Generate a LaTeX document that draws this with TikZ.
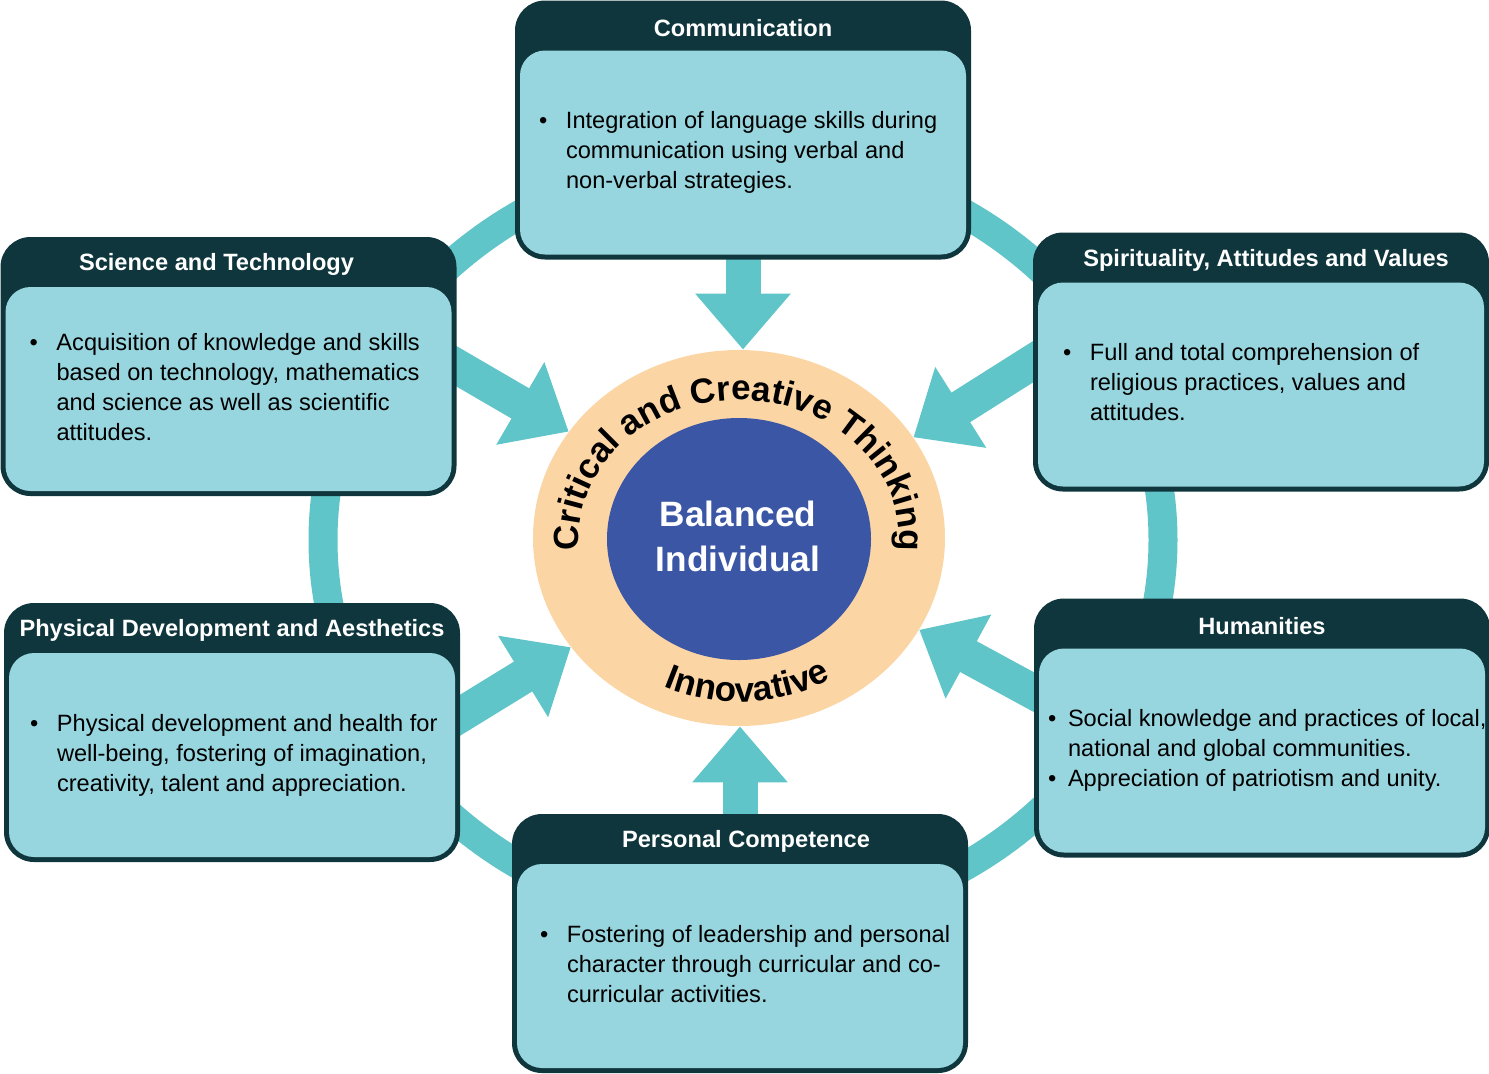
\documentclass[tikz,border=0pt]{standalone}
\usepackage{fontspec}
\setmainfont{Liberation Sans}
\usetikzlibrary{shapes.geometric, arrows.meta, decorations.text, backgrounds}
\definecolor{boxdark}{HTML}{0F363C}
\definecolor{boxlight}{HTML}{97D6DF}
\definecolor{ringteal}{HTML}{60C5C8}
\definecolor{corepeach}{HTML}{FCD5A5}
\definecolor{coreblue}{HTML}{3A56A5}
\newcommand{\bulletlist}[2]{\begin{tabular}{@{}p{#1}@{}l@{}}#2\end{tabular}}

\begin{document}
\begin{tikzpicture}[x=0.5pt, y=-0.5pt,
	outerbox/.style={fill=boxdark, rounded corners=15pt, minimum width=228pt, minimum height=129.5pt, inner sep=0pt},
	innerbox/.style={fill=boxlight, rounded corners=12.5pt, minimum width=223pt, minimum height=102pt, anchor=south, inner sep=0pt},
	boxtitle/.style={text=white, inner sep=0pt, font=\bfseries\fontsize{11.8}{14}\selectfont},
	boxbody/.style={anchor=west, inner sep=0pt, font=\fontsize{11.8}{15}\selectfont},
	feed/.style={draw=ringteal, line width=17.5pt, shorten <=-8pt, -{Triangle[width=46pt, length=28pt]}}]
		\useasboundingbox (0,0) rectangle (1489,1073);
%
		\node[outerbox] (comm) at (743,130) {};
		\node[innerbox] (commin) at ([yshift=2.5pt]comm.south) {};
		\node[boxtitle] (commtitle) at ([yshift=-14pt]comm.north) {Communication};
		\node[boxbody] (commtext) at ([xshift=9.5pt]commin.west) {\bulletlist{13.5pt}{\textbullet & Integration of language skills during\\ & communication using verbal and\\ & non-verbal strategies.}};
%
		\node[outerbox] (sci) at (228.5,366.5) {};
		\node[innerbox] (sciin) at ([yshift=2.5pt]sci.south) {};
		\node[boxtitle] (scititle) at ([xshift=-6pt, yshift=-14pt]sci.north) {Science and Technology};
		\node[boxbody] (scitext) at ([xshift=12pt]sciin.west) {\bulletlist{13.5pt}{\textbullet & Acquisition of knowledge and skills\\ & based on technology, mathematics\\ & and science as well as scientific\\ & attitudes.}};
%
		\node[outerbox] (spirit) at (1261,362) {};
		\node[innerbox] (spiritin) at ([yshift=2.5pt]spirit.south) {};
		\node[boxtitle] (spirittitle) at ([xshift=2.5pt, yshift=-14pt]spirit.north) {Spirituality, Attitudes and Values};
		\node[boxbody] (spirittext) at ([xshift=12.5pt]spiritin.west) {\bulletlist{13.5pt}{\textbullet & Full and total comprehension of\\ & religious practices, values and\\ & attitudes.}};
%
		\node[outerbox] (phys) at (232,732.5) {};
		\node[innerbox] (physin) at ([yshift=2.5pt]phys.south) {};
		\node[boxtitle] (phystitle) at ([yshift=-14pt]phys.north) {Physical Development and Aesthetics};
		\node[boxbody] (phystext) at ([xshift=10.5pt]physin.west) {\bulletlist{13.5pt}{\textbullet & Physical development and health for\\ & well-being, fostering of imagination,\\ & creativity, talent and appreciation.}};
%
		\node[outerbox] (human) at (1262,728) {};
		\node[innerbox] (humanin) at ([yshift=2.5pt]human.south) {};
		\node[boxtitle] (humantitle) at ([yshift=-14pt]human.north) {Humanities};
		\node[boxbody] (humantext) at ([xshift=4.5pt]humanin.west) {\bulletlist{10pt}{\textbullet & Social knowledge and practices of local,\\ & national and global communities.\\ \textbullet & Appreciation of patriotism and unity.}};
%
		\node[outerbox] (pers) at (740,943.5) {};
		\node[innerbox] (persin) at ([yshift=2.5pt]pers.south) {};
		\node[boxtitle] (perstitle) at ([xshift=3pt, yshift=-14pt]pers.north) {Personal Competence};
		\node[boxbody] (perstext) at ([xshift=11.5pt]persin.west) {\bulletlist{13.5pt}{\textbullet & Fostering of leadership and personal\\ & character through curricular and co-\\ & curricular activities.}};
%
		\node[ellipse, fill=corepeach, minimum width=206pt, minimum height=188pt, inner sep=0pt] (core) at (739,538) {};
		\node[ellipse, fill=coreblue, minimum width=132pt, minimum height=121pt, inner sep=0pt] (balanced) at (739,539) {};
		\node[text=white, align=center, font=\bfseries\fontsize{17.6}{22.5}\selectfont] (balancedtext) at (738,536) {Balanced\\Individual};
		\path[decorate, decoration={text along path, text align=center, text={|\bfseries\fontsize{17.5}{20}\selectfont|Critical and Creative Thinking}}] (core.center) ++(-200:160 and 138) arc[start angle=-200, end angle=20, x radius=160, y radius=138];
		\path[decorate, decoration={text along path, text align=center, text={|\bfseries\fontsize{17.5}{20}\selectfont|Innovative}}] (core.center) ++(123:180 and 164) arc[start angle=123, end angle=51, x radius=180, y radius=164];
%
		\begin{scope}[on background layer]
		\draw[ringteal, line width=14.5pt] (743,540) ellipse [x radius=420, y radius=384]; % outer ring
		\draw[feed] (comm.south) -- (comm.south |- core.north);
		\draw[feed] (pers.north) -- (pers.north |- core.south);
		\draw[feed] (sci.east) -- (core.148);
		\draw[feed] (spirit.west) -- (core.30);
		\draw[feed] ([yshift=8.75pt]phys.east) -- (core.213);
		\draw[feed] ([yshift=18pt]human.west) -- (core.333);
		\end{scope}
\end{tikzpicture}
\end{document}
